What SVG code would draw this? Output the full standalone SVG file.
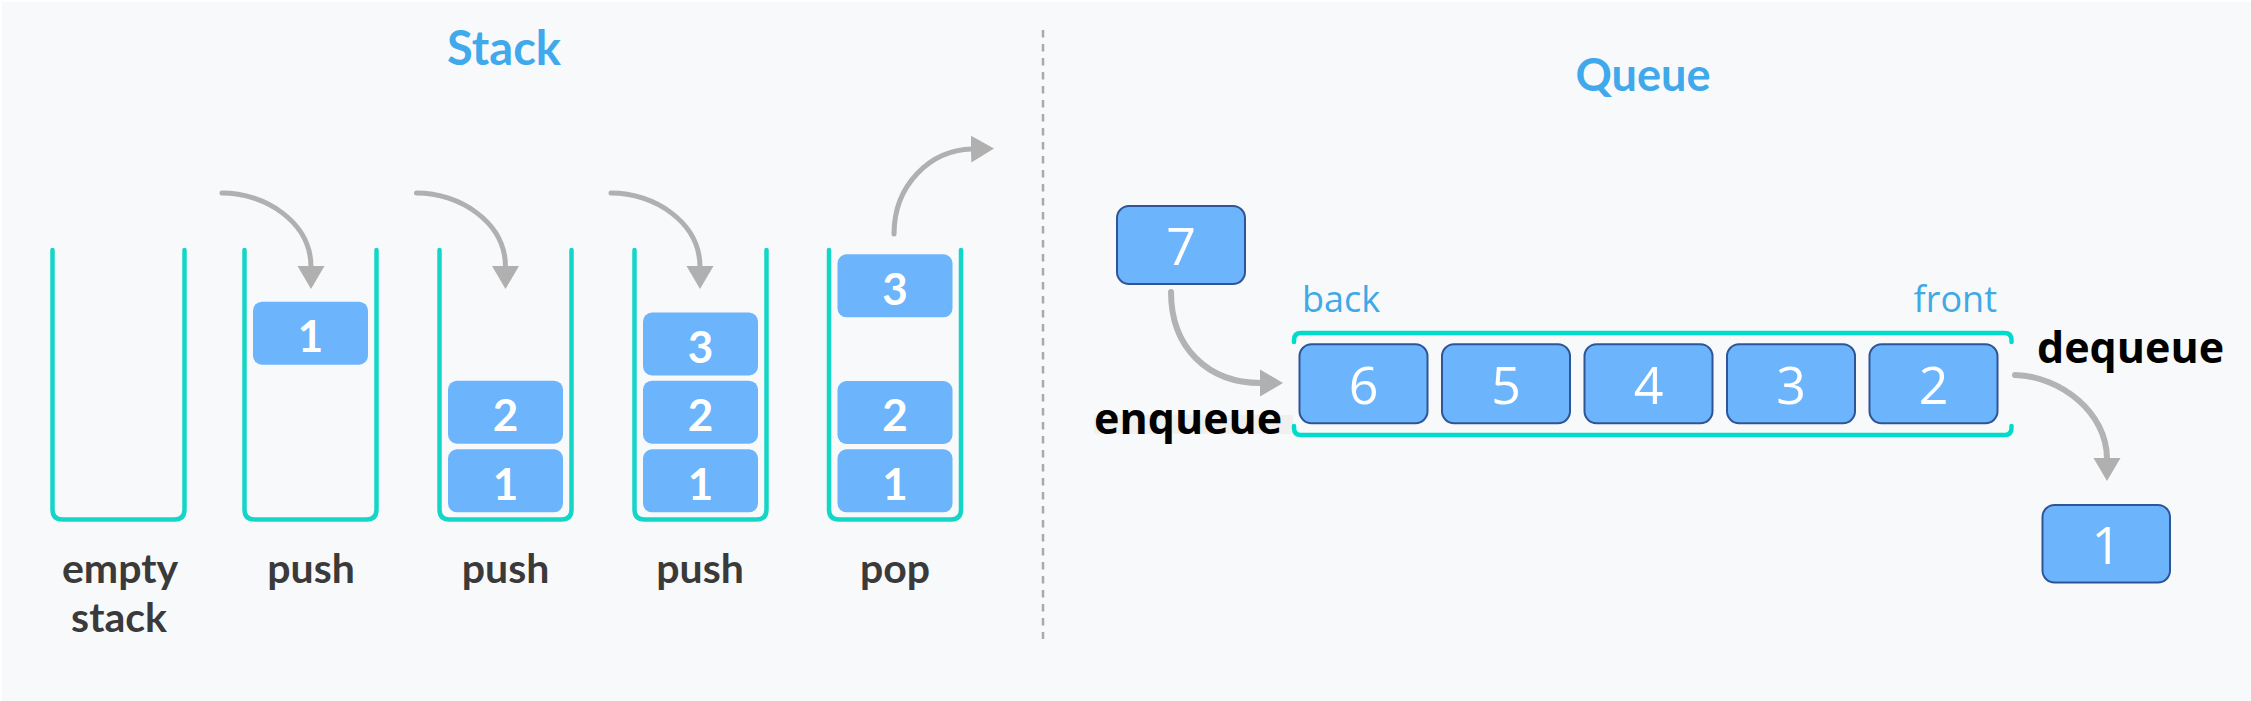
<svg xmlns="http://www.w3.org/2000/svg" width="2251" height="701" viewBox="0 0 2251 701">
<style>
.wall{fill:none;stroke:#14d6c6;stroke-width:4.5;stroke-linecap:round;stroke-linejoin:round}
.blk{fill:#6cb4fc}
.snum{font-family:Lato,"Liberation Sans",sans-serif;font-weight:700;font-size:44px;fill:#ffffff;text-anchor:middle}
.slbl{font-family:Lato,"Liberation Sans",sans-serif;font-weight:700;font-size:41px;fill:#3a3a3a;text-anchor:middle}
.title{font-family:Lato,"Liberation Sans",sans-serif;font-weight:700;fill:#3fa9ec;text-anchor:middle}
.arr{fill:none;stroke:#b0b0b0;stroke-width:5;stroke-linecap:round;marker-end:url(#ah)}
.arrq{fill:none;stroke:#b3b3b3;stroke-width:6;stroke-linecap:round;marker-end:url(#ah)}
.qbox{fill:#6cb4fc;stroke:#2f5597;stroke-width:2}
.qnum{font-family:"Open Sans","Liberation Sans",sans-serif;font-size:52px;fill:#ffffff;text-anchor:middle}
.qlbl{font-family:"Open Sans","Liberation Sans",sans-serif;font-size:36px;fill:#3fa9e6}
.op{font-family:"Open Sans","Liberation Sans",sans-serif;font-weight:700;font-size:43px;fill:#000000}
.tube{fill:none;stroke:#00dccb;stroke-width:4.5;stroke-linecap:round}
</style>
<defs>
<marker id="ah" markerUnits="userSpaceOnUse" markerWidth="26" markerHeight="28" viewBox="0 -14 26 28" refX="1" refY="0" orient="auto">
<path d="M0,-13.5 L23,0 L0,13.5 Z" fill="#b0b0b0"/>
</marker>
</defs>
<rect x="0" y="0" width="2251" height="701" fill="#ffffff"/>
<rect x="2" y="2" width="2249" height="699" fill="#f8f9fb"/>

<text class="title" x="504" y="65" font-size="47">Stack</text>
<text class="title" x="1643" y="91" font-size="45">Queue</text>
<line x1="1043" y1="30" x2="1043" y2="639" stroke="#aaaaaa" stroke-width="2.5" stroke-dasharray="7.5 6.5"/>

<g id="stack-empty">
<path class="wall" d="M52.5,250 V509.5 Q52.5,519.5 62.5,519.5 H174.5 Q184.5,519.5 184.5,509.5 V250"/>
<text class="slbl" x="120" y="583">empty</text>
<text class="slbl" x="119" y="632">stack</text>
</g>
<g id="stack-push1">
<path class="wall" d="M244.5,250 V509.5 Q244.5,519.5 254.5,519.5 H366.5 Q376.5,519.5 376.5,509.5 V250"/>
<rect class="blk" x="253" y="301.7" width="115" height="63" rx="9"/>
<text class="snum" x="310.5" y="352">1</text>
<text class="slbl" x="311" y="583">push</text>
</g>
<g id="stack-push2">
<path class="wall" d="M439.5,250 V509.5 Q439.5,519.5 449.5,519.5 H561.5 Q571.5,519.5 571.5,509.5 V250"/>
<rect class="blk" x="448" y="380.7" width="115" height="63" rx="9"/>
<text class="snum" x="505.5" y="431">2</text>
<rect class="blk" x="448" y="449.3" width="115" height="63" rx="9"/>
<text class="snum" x="505.5" y="499.5">1</text>
<text class="slbl" x="505.5" y="583">push</text>
</g>
<g id="stack-push3">
<path class="wall" d="M634.5,250 V509.5 Q634.5,519.5 644.5,519.5 H756.5 Q766.5,519.5 766.5,509.5 V250"/>
<rect class="blk" x="643" y="312.5" width="115" height="63" rx="9"/>
<text class="snum" x="700.5" y="363">3</text>
<rect class="blk" x="643" y="380.7" width="115" height="63" rx="9"/>
<text class="snum" x="700.5" y="431">2</text>
<rect class="blk" x="643" y="449.3" width="115" height="63" rx="9"/>
<text class="snum" x="700.5" y="499.5">1</text>
<text class="slbl" x="700" y="583">push</text>
</g>
<g id="stack-pop">
<path class="wall" d="M829,250 V509.5 Q829,519.5 839,519.5 H951 Q961,519.5 961,509.5 V250"/>
<rect class="blk" x="837.5" y="254.3" width="115" height="63" rx="9"/>
<text class="snum" x="895" y="304.5">3</text>
<rect class="blk" x="837.5" y="381" width="115" height="63" rx="9"/>
<text class="snum" x="895" y="431">2</text>
<rect class="blk" x="837.5" y="449.3" width="115" height="63" rx="9"/>
<text class="snum" x="895" y="499.5">1</text>
<text class="slbl" x="895" y="583">pop</text>
</g>

<g id="queue">
<rect x="1094" y="415" width="199" height="19" fill="#f0f0f0"/>
<path class="tube" d="M1294,342 V340 Q1294,333 1301,333 H2004.5 Q2011.5,333 2011.5,340 V342"/>
<path class="tube" d="M1294,426 V428 Q1294,435 1301,435 H2004.5 Q2011.5,435 2011.5,428 V426"/>
<text class="qlbl" x="1302" y="311.7">back</text>
<text class="qlbl" x="1997" y="311.7" text-anchor="end">front</text>
</g>
<g id="q6"><rect class="qbox" x="1299.5" y="344.3" width="128" height="79" rx="12"/><text class="qnum" x="1363.5" y="404">6</text></g>
<g id="q5"><rect class="qbox" x="1442" y="344.3" width="128" height="79" rx="12"/><text class="qnum" x="1506" y="404">5</text></g>
<g id="q4"><rect class="qbox" x="1584.5" y="344.3" width="128" height="79" rx="12"/><text class="qnum" x="1648.5" y="404">4</text></g>
<g id="q3"><rect class="qbox" x="1727" y="344.3" width="128" height="79" rx="12"/><text class="qnum" x="1791" y="404">3</text></g>
<g id="q2"><rect class="qbox" x="1869.5" y="344.3" width="128" height="79" rx="12"/><text class="qnum" x="1933.5" y="404">2</text></g>
<g id="q7"><rect class="qbox" x="1117" y="206" width="128" height="78" rx="12"/><text class="qnum" x="1181" y="265">7</text></g>
<g id="q1"><rect class="qbox" x="2042.5" y="505" width="127.5" height="77.5" rx="12"/><text class="qnum" x="2106.3" y="564">1</text></g>
<g id="labels">
<text class="op" x="1094" y="434">enqueue</text>
<text class="op" x="2037" y="363">dequeue</text>
</g>

<g id="connectors">
<path class="arr" d="M222,193 C265,193 311,222 311,267"/>
<path class="arr" d="M416.5,193 C459.5,193 505.5,222 505.5,267"/>
<path class="arr" d="M611,193 C654,193 700,222 700,267"/>
<path class="arr" d="M894,234 C894,185 930,150 972,149"/>
<path class="arrq" d="M1171,292 C1171,348 1208,383 1261,383"/>
<path class="arrq" d="M2015,375 C2060,376 2107,412 2107,459"/>
</g>
</svg>
